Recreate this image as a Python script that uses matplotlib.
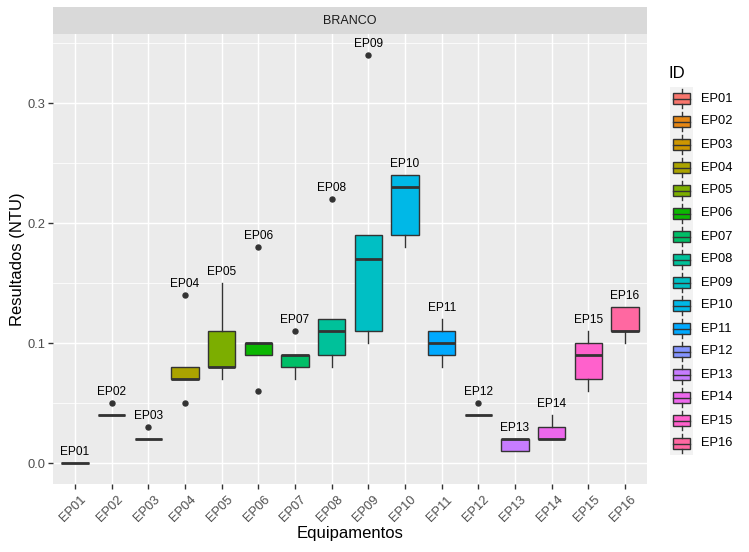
import matplotlib
matplotlib.use("Agg")
import matplotlib.pyplot as plt
import matplotlib.transforms as mtransforms
from matplotlib.patches import Rectangle

plt.rcParams['font.family'] = ['Liberation Sans', 'DejaVu Sans']

# box statistics (NTU)
ids = ['EP01', 'EP02', 'EP03', 'EP04', 'EP05', 'EP06', 'EP07', 'EP08',
       'EP09', 'EP10', 'EP11', 'EP12', 'EP13', 'EP14', 'EP15', 'EP16']
q1 = [0.00, 0.04, 0.02, 0.07, 0.08, 0.09, 0.08, 0.09,
      0.11, 0.19, 0.09, 0.04, 0.01, 0.02, 0.07, 0.11]
med = [0.00, 0.04, 0.02, 0.07, 0.08, 0.10, 0.09, 0.11,
       0.17, 0.23, 0.10, 0.04, 0.02, 0.02, 0.09, 0.11]
q3 = [0.00, 0.04, 0.02, 0.08, 0.11, 0.10, 0.09, 0.12,
      0.19, 0.24, 0.11, 0.04, 0.02, 0.03, 0.10, 0.13]
wlo = [0.00, 0.04, 0.02, 0.07, 0.07, 0.09, 0.07, 0.08,
       0.10, 0.18, 0.08, 0.04, 0.01, 0.02, 0.06, 0.10]
whi = [0.00, 0.04, 0.02, 0.08, 0.15, 0.10, 0.09, 0.12,
       0.19, 0.24, 0.12, 0.04, 0.02, 0.04, 0.11, 0.13]
outliers = [[], [0.05], [0.03], [0.14, 0.05], [], [0.18, 0.06], [0.11], [0.22],
            [0.34], [], [], [0.05], [], [], [], []]

colors = ['#F8766D', '#E68613', '#CD9600', '#ABA300', '#7CAE00', '#0CB702',
          '#00BE67', '#00C19A', '#00BFC4', '#00B8E7', '#00A9FF', '#8494FF',
          '#C77CFF', '#ED68ED', '#FF61CC', '#FF68A1']

W, H = 749, 552
fig = plt.figure(figsize=(W / 100, H / 100), dpi=100)

px0, px1, py0, py1 = 53, 647, 34, 484
ax = fig.add_axes([px0 / W, 1 - py1 / H, (px1 - px0) / W, (py1 - py0) / H])
ax.set_facecolor('#EBEBEB')
for s in ax.spines.values():
    s.set_visible(False)

pos = list(range(1, len(ids) + 1))

stats = []
for i in range(len(ids)):
    stats.append(dict(med=med[i], q1=q1[i], q3=q3[i], whislo=wlo[i],
                      whishi=whi[i], fliers=outliers[i]))

bp = ax.bxp(stats, positions=pos, widths=0.75, patch_artist=True, showcaps=False,
            manage_ticks=False,
            boxprops=dict(edgecolor='#333333', linewidth=1.0),
            whiskerprops=dict(color='#333333', linewidth=1.0),
            medianprops=dict(color='#333333', linewidth=2.0, solid_capstyle='butt'),
            flierprops=dict(marker='o', markerfacecolor='#333333', markeredgecolor='#333333',
                            markersize=3.6))
for patch, c in zip(bp['boxes'], colors):
    patch.set_facecolor(c)

ax.set_xlim(0.4, len(ids) + 0.6)
ax.set_ylim(-0.0175, 0.3575)
ax.set_yticks([0.05, 0.15, 0.25, 0.35], minor=True)
ax.set_yticks([0.0, 0.1, 0.2, 0.3])
ax.set_yticklabels(['0.0', '0.1', '0.2', '0.3'])
ax.set_xticks(pos)
ax.set_xticklabels(ids, rotation=45, ha='right', va='top', rotation_mode='anchor')
ax.grid(True, which='major', color='white', linewidth=1.05)
ax.grid(True, which='minor', axis='y', color='white', linewidth=0.55)
ax.set_axisbelow(True)
ax.tick_params(axis='both', which='major', length=3.6, width=1.0, color='#333333',
               labelcolor='#4D4D4D', labelsize=9.3, pad=2)
ax.tick_params(axis='x', which='major', pad=3.5)
ax.tick_params(axis='y', which='minor', length=0)

# nudge rotated tick labels to the right like ggplot does
shift = mtransforms.ScaledTranslation(5 / 100, 0, fig.dpi_scale_trans)
for lab in ax.get_xticklabels():
    lab.set_transform(lab.get_transform() + shift)

# labels above each group's maximum
for i in range(len(ids)):
    top = max([whi[i]] + outliers[i])
    ax.text(pos[i], top + 0.0045, ids[i], ha='center', va='bottom',
            fontsize=8.6, color='black')

ax.set_xlabel('Equipamentos', fontsize=12, color='black')
ax.set_ylabel('Resultados (NTU)', fontsize=12, color='black')
ax.xaxis.set_label_coords(0.5, (py1 - 526) / (py1 - py0))
ax.yaxis.set_label_coords((25 - px0) / (px1 - px0), 0.5)

# facet strip
sax = fig.add_axes([px0 / W, 1 - py0 / H, (px1 - px0) / W, 27 / H])
sax.set_facecolor('#D9D9D9')
sax.set_xticks([])
sax.set_yticks([])
for s in sax.spines.values():
    s.set_visible(False)
sax.text(0.5, 0.5, 'BRANCO', ha='center', va='center', fontsize=9,
         color='#1A1A1A', transform=sax.transAxes)

# legend
lx0, lx1, ly0, ly1 = 670, 693, 87, 455
lax = fig.add_axes([lx0 / W, 1 - ly1 / H, (lx1 - lx0) / W, (ly1 - ly0) / H])
lax.set_facecolor('#F2F2F2')
lax.set_xlim(0, 1)
lax.set_ylim(len(ids), 0)
lax.set_xticks([])
lax.set_yticks([])
for s in lax.spines.values():
    s.set_visible(False)
for i, (name, c) in enumerate(zip(ids, colors)):
    lax.plot([0.5, 0.5], [i + 0.1, i + 0.25], color='#333333', linewidth=1.0)
    lax.plot([0.5, 0.5], [i + 0.75, i + 0.9], color='#333333', linewidth=1.0)
    lax.add_patch(Rectangle((0.125, i + 0.25), 0.75, 0.5, facecolor=c,
                            edgecolor='#333333', linewidth=1.0))
    lax.plot([0.125, 0.875], [i + 0.5, i + 0.5], color='#333333', linewidth=1.0)
    fig.text(701 / W, 1 - (ly0 + (i + 0.5) * (ly1 - ly0) / len(ids)) / H, name,
             ha='left', va='center', fontsize=9.3, color='black')
fig.text(668 / W, 1 - 73 / H, 'ID', ha='left', va='center', fontsize=12, color='black')

fig.savefig('out.png', dpi=100, facecolor='white')
